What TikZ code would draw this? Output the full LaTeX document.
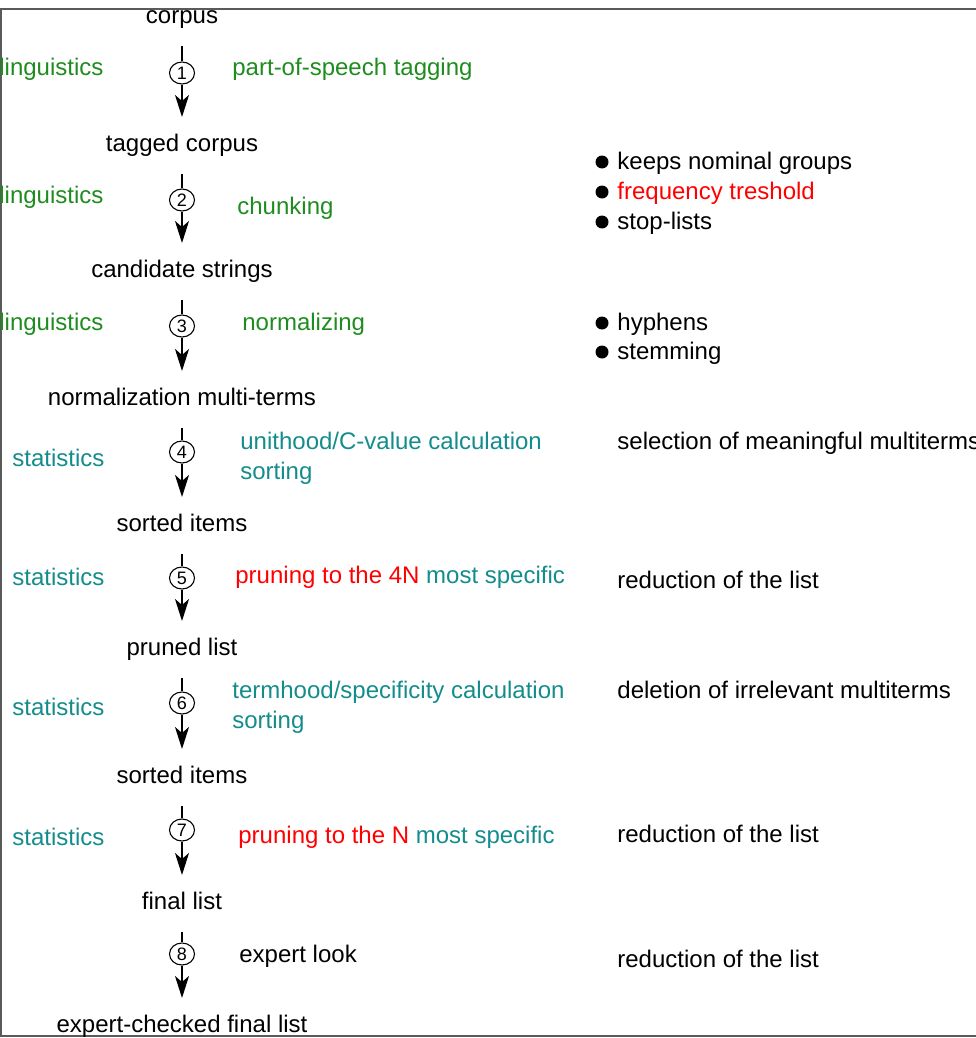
\documentclass[tikz,border=0pt]{standalone}
\usepackage{fontspec}
\setmainfont{Liberation Sans}
\usetikzlibrary{arrows.meta,shapes.geometric}
\definecolor{lingo}{RGB}{30,140,30}
\definecolor{stat}{RGB}{20,140,140}
\definecolor{warn}{RGB}{255,0,0}
\definecolor{rim}{RGB}{90,90,90}

\begin{document}
\begin{tikzpicture}[x=0.5pt,y=-0.5pt,font=\fontsize{12}{15}\selectfont,
  lbl/.style={inner sep=0pt,text height=8.6pt,text depth=0pt},
  twoline/.style={inner sep=0pt,align=left,anchor=west},
  stepno/.style={ellipse,draw,fill=white,line width=.55pt,minimum width=12.5pt,minimum height=11pt,inner sep=0pt,font=\fontsize{9}{9}\selectfont},
  flow/.style={line width=1pt},
  tip/.style={-{Stealth[length=11pt,width=7pt,inset=3pt]}},
  dot/.style={circle,fill,inner sep=0pt,minimum size=6.5pt}]
\useasboundingbox (0,0) rectangle (975,1038);
\draw[rim,line width=.8pt] (985,9) -- (1,9) -- (1,1036) -- (985,1036);
% the chain of intermediate results
\node[lbl] (t0) at (182,15) {corpus};
\node[lbl] (t1) at (182,143) {tagged corpus};
\node[lbl] (t2) at (182,269) {candidate strings};
\node[lbl] (t3) at (182,397) {normalization multi-terms};
\node[lbl] (t4) at (182,523) {sorted items};
\node[lbl] (t5) at (182,647) {pruned list};
\node[lbl] (t6) at (182,775) {sorted items};
\node[lbl] (t7) at (182,901) {final list};
\node[lbl] (t8) at (182,1024) {expert-checked final list};
% numbered steps
\node[stepno] (s1) at (182,73) {1};
\node[stepno] (s2) at (182,200) {2};
\node[stepno] (s3) at (182,326) {3};
\node[stepno] (s4) at (182,452) {4};
\node[stepno] (s5) at (182,578) {5};
\node[stepno] (s6) at (182,703) {6};
\node[stepno] (s7) at (182,830) {7};
\node[stepno] (s8) at (182,954) {8};
\draw[flow,shorten <=15.5pt] (t0.center) -- (s1);
\draw[flow,tip,shorten >=13pt] (s1) -- (t1.center);
\draw[flow,shorten <=15.5pt] (t1.center) -- (s2);
\draw[flow,tip,shorten >=13pt] (s2) -- (t2.center);
\draw[flow,shorten <=15.5pt] (t2.center) -- (s3);
\draw[flow,tip,shorten >=13pt] (s3) -- (t3.center);
\draw[flow,shorten <=15.5pt] (t3.center) -- (s4);
\draw[flow,tip,shorten >=13pt] (s4) -- (t4.center);
\draw[flow,shorten <=15.5pt] (t4.center) -- (s5);
\draw[flow,tip,shorten >=13pt] (s5) -- (t5.center);
\draw[flow,shorten <=15.5pt] (t5.center) -- (s6);
\draw[flow,tip,shorten >=13pt] (s6) -- (t6.center);
\draw[flow,shorten <=15.5pt] (t6.center) -- (s7);
\draw[flow,tip,shorten >=13pt] (s7) -- (t7.center);
\draw[flow,shorten <=15.5pt] (t7.center) -- (s8);
\draw[flow,tip,shorten >=13pt] (s8) -- (t8.center);
% kind of step
\node[lbl,lingo,anchor=west] (k1) at (-1,67) {linguistics};
\node[lbl,lingo,anchor=west] (k2) at (-1,195) {linguistics};
\node[lbl,lingo,anchor=west] (k3) at (-1,322) {linguistics};
\node[lbl,stat,anchor=west] (k4) at (12,458) {statistics};
\node[lbl,stat,anchor=west] (k5) at (12,577) {statistics};
\node[lbl,stat,anchor=west] (k6) at (12,707) {statistics};
\node[lbl,stat,anchor=west] (k7) at (12,837) {statistics};
% what the step does
\node[lbl,lingo,anchor=west] (d1) at (232,67) {part-of-speech tagging};
\node[lbl,lingo,anchor=west] (d2) at (237,206) {chunking};
\node[lbl,lingo,anchor=west] (d3) at (242,322) {normalizing};
\node[twoline,stat] (d4) at (240,458) {unithood/C-value calculation\\sorting};
\node[lbl,stat,anchor=west] (d5) at (235,575) {{\color{warn}pruning to the 4N} most specific};
\node[twoline,stat] (d6) at (232,707) {termhood/specificity calculation\\sorting};
\node[lbl,stat,anchor=west] (d7) at (238,835) {{\color{warn}pruning to the N} most specific};
\node[lbl,anchor=west] (d8) at (239,954) {expert look};
% remarks
\node[dot] (b1) at (602,162) {};
\node[dot] (b2) at (602,192) {};
\node[dot] (b3) at (602,222) {};
\node[dot] (b4) at (602,323) {};
\node[dot] (b5) at (602,352) {};
\node[lbl,anchor=west] (r1) at (617,161) {keeps nominal groups};
\node[lbl,warn,anchor=west] (r2) at (617,191) {frequency treshold};
\node[lbl,anchor=west] (r3) at (617,221) {stop-lists};
\node[lbl,anchor=west] (r4) at (617,322) {hyphens};
\node[lbl,anchor=west] (r5) at (617,351) {stemming};
\node[lbl,anchor=west] (r6) at (617,441) {selection of meaningful multiterms};
\node[lbl,anchor=west] (r7) at (617,580) {reduction of the list};
\node[lbl,anchor=west] (r8) at (617,690) {deletion of irrelevant multiterms};
\node[lbl,anchor=west] (r9) at (617,834) {reduction of the list};
\node[lbl,anchor=west] (r10) at (617,959) {reduction of the list};
\end{tikzpicture}
\end{document}
